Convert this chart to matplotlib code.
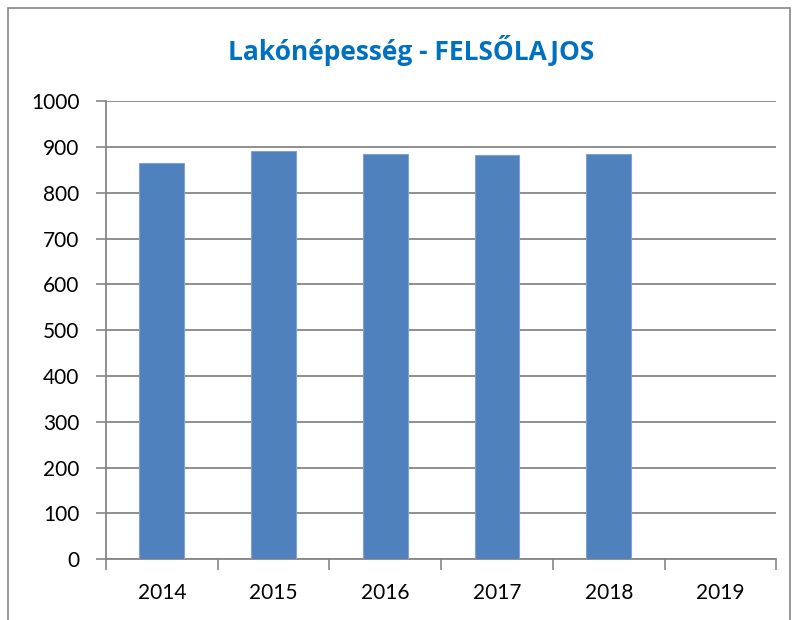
import numpy as np
import matplotlib.pyplot as plt
from matplotlib.patches import Rectangle

years = ['2014', '2015', '2016', '2017', '2018', '2019']
values = [864, 890, 885, 882, 885, np.nan]
yticks = [0, 100, 200, 300, 400, 500, 600, 700, 800, 900, 1000]

plt.rcParams['font.family'] = ['Lato', 'DejaVu Sans']

fig = plt.figure(figsize=(7.98, 6.20), dpi=100)
ax = fig.add_axes([0.1328, 0.098, 0.840, 0.739])

x = np.arange(len(years))
ax.bar(x, values, width=0.4, color='#4F81BD', edgecolor='#7FA3D1', linewidth=0.8, zorder=3)

ax.set_xlim(-0.5, len(years) - 0.5)
ax.set_ylim(0, 1000)
ax.set_yticks(yticks)
ax.tick_params(axis='y', labelsize=15, length=7, color='#868686', width=1.2, pad=12)
ax.yaxis.grid(True, color='#868686', linewidth=1.3, zorder=0)

# ticks at category boundaries, labels at centres
ax.set_xticks(np.arange(-0.5, len(years)), labels=[''] * (len(years) + 1))
ax.tick_params(axis='x', which='major', length=8, color='#868686', width=1.2)
ax.set_xticks(x, labels=years, minor=True)
ax.tick_params(axis='x', which='minor', length=0, labelsize=15, pad=17)

for s in ['top', 'right']:
    ax.spines[s].set_visible(False)
for s in ['left', 'bottom']:
    ax.spines[s].set_color('#868686')
    ax.spines[s].set_linewidth(1.3)

fig.text(0.515, 0.919, 'Lakónépesség - FELSŐLAJOS', ha='center', va='center',
         fontsize=19, fontweight='bold', color='#0070C0',
         family=['Open Sans', 'DejaVu Sans'])

fig.patches.append(Rectangle((8 / 798, -0.1), 782 / 798, 1 - 8 / 620 + 0.1,
                             transform=fig.transFigure, fill=False,
                             edgecolor='#868686', linewidth=1.2))

fig.savefig('out.png', dpi=100)
